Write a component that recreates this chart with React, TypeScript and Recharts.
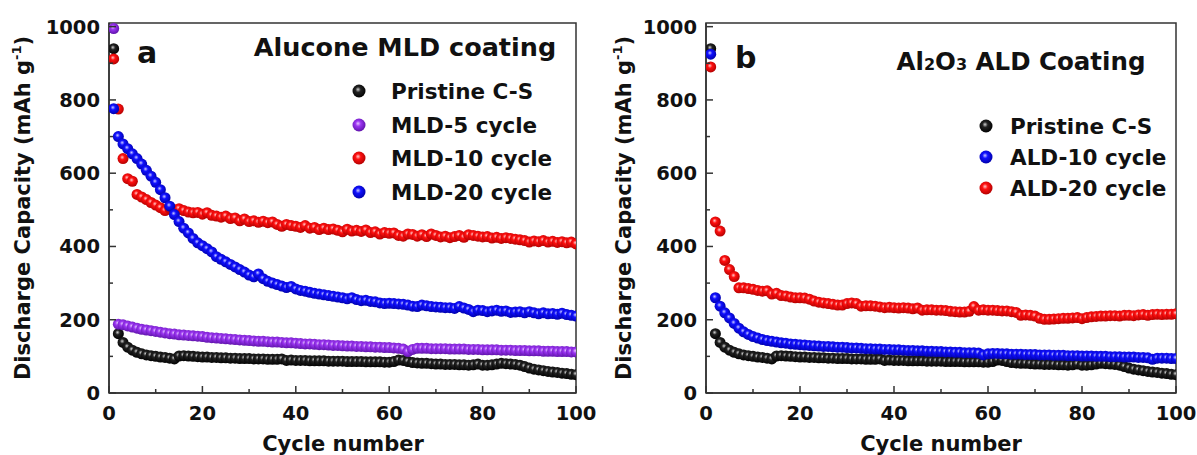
import React from "react";
import { ScatterChart, Scatter, XAxis, YAxis, ReferenceArea } from "recharts";

const FONT = "'DejaVu Sans', Verdana, sans-serif";
const AXIS = "#333";

const cycles = Array.from({ length: 100 }, (_, i) => i + 1);
const xTicks = [0, 10, 20, 30, 40, 50, 60, 70, 80, 90, 100];
const yTicks = [0, 100, 200, 300, 400, 500, 600, 700, 800, 900, 1000];

// discharge capacity (mAh/g), cycles 1..100
const pristineCS = [
  940, 162, 138, 125, 117, 111, 107, 104, 102, 100,
  98, 97, 95, 93, 101, 102, 101, 100, 99, 98,
  98, 97, 97, 96, 96, 95, 95, 94, 94, 94,
  93, 93, 93, 92, 92, 92, 93, 89, 90, 89,
  89, 89, 88, 88, 88, 88, 87, 87, 87, 87,
  86, 86, 86, 86, 85, 85, 85, 85, 84, 84,
  86, 90, 89, 86, 83, 82, 81, 81, 80, 79,
  79, 78, 78, 78, 77, 77, 76, 77, 79, 76,
  76, 77, 79, 81, 80, 79, 78, 76, 72, 68,
  65, 63, 61, 59, 57, 56, 54, 53, 51, 50,
];

const mld5 = [
  995, 188, 186, 183, 180, 177, 174, 172, 170, 168,
  166, 164, 162, 161, 159, 158, 157, 156, 155, 154,
  152, 151, 150, 149, 148, 147, 146, 145, 144, 143,
  142, 141, 141, 140, 139, 139, 138, 137, 137, 136,
  135, 134, 134, 133, 132, 132, 131, 130, 130, 129,
  128, 128, 127, 127, 126, 126, 125, 125, 124, 124,
  123, 122, 120, 113, 119, 122, 122, 122, 121, 121,
  121, 121, 120, 120, 120, 120, 119, 119, 119, 118,
  118, 118, 118, 117, 117, 117, 116, 116, 116, 115,
  115, 115, 114, 114, 114, 113, 113, 113, 112, 112,
];

const mld10 = [
  912, 775, 640, 585, 578, 542, 535, 528, 520, 513,
  506, 498, 505, 500, 503, 498, 494, 492, 493, 488,
  492, 485, 483, 480, 483, 476, 478, 470, 475, 468,
  470, 466, 469, 465, 467, 460, 455, 460, 457, 455,
  452, 457, 450, 452, 446, 450, 446, 448, 444, 440,
  447, 442, 444, 441, 445, 438, 440, 434, 438, 436,
  437, 430, 428, 434, 433, 428, 432, 427, 434, 430,
  426, 428, 424, 427, 430, 425, 432, 430, 428, 426,
  427, 423, 425, 422, 424, 422, 420, 418, 416, 412,
  415, 413, 416, 412, 414, 411, 413, 410, 412, 407,
];

const mld20 = [
  776, 700, 680, 667, 653, 640, 625, 608, 592, 575,
  555, 533, 510, 487, 468, 450, 437, 422, 410, 402,
  394, 385, 372, 365, 358, 351, 344, 337, 330, 322,
  317, 325, 312, 305, 300, 296, 292, 288, 291, 284,
  280, 278, 275, 272, 270, 268, 266, 264, 262, 260,
  257, 260, 255, 252, 253, 250, 249, 246, 244, 245,
  244, 243, 242, 240, 237, 236, 240, 238, 236, 235,
  234, 233, 233, 231, 236, 232, 228, 222, 226, 225,
  222, 224, 226, 223, 224, 220, 221, 222, 219, 222,
  219, 216, 219, 216, 217, 215, 218, 214, 212, 210,
];

const ald10 = [
  925, 260, 237, 219, 205, 190, 177, 167, 160, 154,
  150, 146, 143, 141, 139, 137, 136, 134, 133, 132,
  131, 130, 129, 128, 127, 127, 126, 125, 125, 124,
  123, 123, 122, 121, 121, 120, 120, 119, 119, 118,
  118, 117, 116, 116, 115, 115, 114, 114, 113, 113,
  112, 112, 111, 111, 110, 110, 110, 109, 104, 107,
  108, 108, 107, 107, 106, 106, 106, 105, 105, 105,
  104, 104, 104, 103, 103, 103, 102, 102, 102, 101,
  101, 101, 100, 100, 100, 99, 99, 99, 98, 98,
  98, 97, 97, 96, 92, 95, 95, 95, 94, 94,
];

const ald20 = [
  890, 467, 442, 362, 337, 318, 287, 287, 285, 283,
  280, 278, 279, 270, 272, 266, 265, 262, 260, 260,
  259, 256, 251, 248, 246, 244, 242, 240, 240, 244,
  246, 244, 237, 238, 238, 237, 235, 233, 234, 233,
  232, 233, 232, 230, 232, 226, 227, 227, 226, 226,
  225, 223, 222, 221, 221, 223, 236, 226, 227, 226,
  226, 225, 224, 224, 222, 220, 212, 213, 212, 210,
  204, 201, 201, 202, 203, 204, 204, 205, 206, 203,
  206, 208, 209, 210, 210, 211, 211, 210, 212, 212,
  211, 213, 214, 212, 214, 215, 214, 215, 215, 216,
];

const panelANames = ["Pristine C-S", "MLD-5 cycle", "MLD-10 cycle", "MLD-20 cycle"];
const panelBNames = ["Pristine C-S", "ALD-10 cycle", "ALD-20 cycle"];

const GRADIENTS: Record<string, [string, string, string]> = {
  black: ["#d0d0d0", "#222222", "#000000"],
  purple: ["#e6c4ff", "#9b35f2", "#5d12a8"],
  red: ["#ffc8c8", "#ff1010", "#b00000"],
  blue: ["#c8c8ff", "#1010ff", "#0000a8"],
};

const toPoints = (vals: number[]) => vals.map((v, i) => ({ x: cycles[i], y: v }));

const Ball = (color: string, r: number) => (props: any) => {
  const { cx, cy } = props;
  if (cx == null || cy == null) return null;
  return <circle cx={cx} cy={cy} r={r} fill={`url(#ball-${color})`} />;
};

const XTick = (props: any) => {
  const { x, y, payload } = props;
  const major = payload.value % 20 === 0;
  return (
    <g>
      <line x1={x} x2={x} y1={y} y2={y - (major ? 7 : 4)} stroke={AXIS} strokeWidth={1.5} />
      {major && (
        <text x={x} y={y + 27} textAnchor="middle" fontFamily={FONT} fontWeight="bold" fontSize={19.5} fill="#111">
          {payload.value}
        </text>
      )}
    </g>
  );
};

const YTick = (props: any) => {
  const { x, y, payload } = props;
  const major = payload.value % 200 === 0;
  return (
    <g>
      <line x1={x} x2={x + (major ? 7 : 4)} y1={y} y2={y} stroke={AXIS} strokeWidth={1.5} />
      {major && (
        <text x={x - 9} y={y + 7} textAnchor="end" fontFamily={FONT} fontWeight="bold" fontSize={19.5} fill="#111">
          {payload.value}
        </text>
      )}
    </g>
  );
};

type Series = { name: string; values: number[]; color: string };

const Panel = ({ series, width, margin }: { series: Series[]; width: number; margin: any }) => (
  <ScatterChart width={width} height={455} margin={margin}>
    <XAxis
      type="number"
      dataKey="x"
      domain={[0, 100]}
      ticks={xTicks}
      interval={0}
      height={30}
      tickSize={0}
      tickMargin={0}
      tickLine={false}
      axisLine={{ stroke: AXIS, strokeWidth: 1.5 }}
      tick={<XTick />}
      allowDataOverflow
    />
    <YAxis
      type="number"
      dataKey="y"
      domain={[0, 1010]}
      ticks={yTicks}
      interval={0}
      width={60}
      tickSize={0}
      tickMargin={0}
      tickLine={false}
      axisLine={{ stroke: AXIS, strokeWidth: 1.5 }}
      tick={<YTick />}
      allowDataOverflow
    />
    <ReferenceArea x1={0} x2={100} y1={0} y2={1010} fill="none" stroke={AXIS} strokeWidth={1.5} />
    {series.map((s) => (
      <Scatter
        key={s.name}
        name={s.name}
        data={toPoints(s.values)}
        shape={Ball(s.color, 5.5)}
        isAnimationActive={false}
      />
    ))}
  </ScatterChart>
);

const seriesA: Series[] = [
  { name: panelANames[0], values: pristineCS, color: "black" },
  { name: panelANames[1], values: mld5, color: "purple" },
  { name: panelANames[2], values: mld10, color: "red" },
  { name: panelANames[3], values: mld20, color: "blue" },
];

const seriesB: Series[] = [
  { name: panelBNames[0], values: pristineCS, color: "black" },
  { name: panelBNames[1], values: ald10, color: "blue" },
  { name: panelBNames[2], values: ald20, color: "red" },
];

const bold = { fontFamily: FONT, fontWeight: "bold" as const, fill: "#111" };

const YTitle = ({ x }: { x: number }) => (
  <text transform={`translate(${x},208) rotate(-90)`} textAnchor="middle" fontSize={21} {...bold}>
    Discharge Capacity (mAh g
    <tspan dy={-9} fontSize={13}>-1</tspan>
    <tspan dy={9}>)</tspan>
  </text>
);

const LegendBlock = ({ series, mx, tx, rows }: { series: Series[]; mx: number; tx: number; rows: number[] }) => (
  <g>
    {series.map((s, i) => (
      <g key={s.name}>
        <circle cx={mx} cy={rows[i]} r={6.5} fill={`url(#ball-${s.color})`} />
        <text x={tx} y={rows[i] + 8} fontSize={21.5} {...bold}>
          {s.name}
        </text>
      </g>
    ))}
  </g>
);

export default function App() {
  return (
    <div style={{ position: "absolute", left: 0, top: 0, width: 1197, height: 455, background: "#fff" }}>
      <svg width={0} height={0} style={{ position: "absolute" }}>
        <defs>
          {Object.entries(GRADIENTS).map(([k, [hi, mid, lo]]) => (
            <radialGradient key={k} id={`ball-${k}`} cx="0.45" cy="0.42" r="0.6" fx="0.42" fy="0.38">
              <stop offset="0" stopColor={hi} />
              <stop offset="0.35" stopColor={mid} />
              <stop offset="1" stopColor={lo} />
            </radialGradient>
          ))}
        </defs>
      </svg>
      <div style={{ position: "absolute", left: 0, top: 0 }}>
        <Panel series={seriesA} width={600} margin={{ top: 23, right: 24, bottom: 32, left: 49 }} />
      </div>
      <div style={{ position: "absolute", left: 600, top: 0 }}>
        <Panel series={seriesB} width={597} margin={{ top: 23, right: 21, bottom: 32, left: 46 }} />
      </div>
      <svg width={1197} height={455} style={{ position: "absolute", left: 0, top: 0, pointerEvents: "none" }}>
        <YTitle x={30} />
        <text x={137} y={63} fontSize={30} {...bold}>a</text>
        <text x={405} y={56} textAnchor="middle" fontSize={25.5} {...bold}>Alucone MLD coating</text>
        <LegendBlock series={seriesA} mx={359} tx={391} rows={[91, 125, 158, 192]} />
        <text x={343} y={451} textAnchor="middle" fontSize={21} {...bold}>Cycle number</text>

        <YTitle x={631} />
        <text x={735} y={68} fontSize={30} {...bold}>b</text>
        <text x={1021} y={70} textAnchor="middle" fontSize={24.5} {...bold}>
          Al<tspan fontSize={16}>2</tspan>O<tspan fontSize={16}>3</tspan> ALD Coating
        </text>
        <LegendBlock series={seriesB} mx={986} tx={1010} rows={[126, 157, 188]} />
        <text x={941} y={451} textAnchor="middle" fontSize={21} {...bold}>Cycle number</text>
      </svg>
    </div>
  );
}
